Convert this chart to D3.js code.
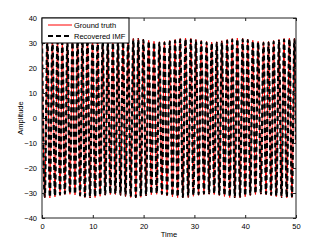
<!DOCTYPE html>
<html lang="en">
<head>
<meta charset="utf-8">
<title>Ground truth vs recovered IMF</title>
<style>
body { margin: 0; background: #fff; }
text { font-family: "Liberation Sans", Arial, sans-serif; }
</style>
</head>
<body>
<script src="https://d3js.org/d3.v7.min.js"></script>
<script>

// extrema of the oscillation (peak, trough, peak, ...)
var times = [0, 0.55, 1.05, 1.55, 2.05, 2.55, 3.05, 3.55, 4.0, 4.5, 5.0, 5.5, 6.0, 6.5, 7.0, 7.5,
  7.95, 8.45, 8.95, 9.45, 9.95, 10.45, 10.95, 11.45, 11.95, 12.45, 12.95, 13.45, 13.95, 14.45,
  14.95, 15.45, 15.95, 16.45, 16.95, 17.46, 17.97, 18.47, 18.96, 19.45, 19.95, 20.48, 21.0, 21.52,
  22.05, 22.58, 23.1, 23.6, 24.1, 24.62, 25.15, 25.68, 26.2, 26.7, 27.2, 27.72, 28.25, 28.78,
  29.3, 29.8, 30.3, 30.82, 31.35, 31.88, 32.4, 32.9, 33.4, 33.9, 34.4, 34.9, 35.4, 35.92,
  36.45, 36.95, 37.45, 37.95, 38.45, 38.98, 39.5, 40.0, 40.5, 41.0, 41.5, 42.02, 42.55, 43.08,
  43.6, 44.1, 44.6, 45.1, 45.6, 46.12, 46.65, 47.15, 47.65, 48.18, 48.7, 49.2, 49.7, 50.0];

var groundTruth = [31.5, -31.9, 31.8, -32.0, 31.5, -31.6, 31.0, -31.0, 30.6, -30.6, 30.5, -30.5,
  30.8, -30.8, 31.2, -31.3, 31.6, -31.8, 31.9, -32.0, 31.8, -31.8, 31.4, -31.3, 31.0, -30.9,
  30.6, -30.6, 30.5, -30.6, 30.7, -31.0, 31.1, -31.4, 31.5, -31.8, 31.8, -32.0, 31.9, -31.7,
  31.6, -31.2, 31.1, -30.7, 30.7, -30.5, 30.5, -30.7, 30.6, -31.1, 31.0, -31.6, 31.4, -31.9,
  31.8, -32.0, 32.0, -31.8, 31.8, -31.3, 31.4, -30.9, 31.0, -30.6, 30.6, -30.5, 30.4, -30.6,
  30.5, -31.0, 30.9, -31.4, 31.4, -31.8, 31.8, -32.0, 32.0, -31.9, 31.9, -31.5, 31.6, -31.0,
  31.1, -30.6, 30.7, -30.5, 30.5, -30.7, 30.6, -31.1, 31.0, -31.5, 31.4, -31.9, 31.8, -32.0,
  32.0, -31.8, 31.9, -10];

var recoveredIMF = [31.0, -31.5, 31.3, -31.6, 31.1, -31.2, 30.6, -30.6, 30.2, -30.2, 30.1, -30.1,
  30.4, -30.4, 30.8, -30.9, 31.2, -31.4, 31.5, -31.6, 31.4, -31.4, 31.0, -30.9, 30.6, -30.5,
  30.2, -30.2, 30.1, -30.2, 30.3, -30.6, 30.7, -31.0, 31.1, -31.4, 31.4, -31.6, 31.5, -31.3,
  31.2, -30.8, 30.7, -30.3, 30.3, -30.1, 30.1, -30.3, 30.2, -30.7, 30.6, -31.2, 31.0, -31.5,
  31.4, -31.6, 31.6, -31.4, 31.4, -30.9, 31.0, -30.5, 30.6, -30.2, 30.2, -30.1, 30.0, -30.2,
  30.1, -30.6, 30.5, -31.0, 31.0, -31.4, 31.4, -31.6, 31.6, -31.5, 31.5, -31.1, 31.2, -30.6,
  30.7, -30.2, 30.3, -30.1, 30.1, -30.3, 30.2, -30.7, 30.6, -31.1, 31.0, -31.5, 31.4, -31.6,
  31.6, -31.4, 31.5, -10];

var xTicks = [0, 10, 20, 30, 40, 50];
var yTicks = [-40, -30, -20, -10, 0, 10, 20, 30, 40];
var legendNames = ["Ground truth", "Recovered IMF"];

var width = 327, height = 246;
var margin = {top: 18, right: 31, bottom: 28, left: 42};
var w = width - margin.left - margin.right,
    h = height - margin.top - margin.bottom;

var svg = d3.select("body").append("svg")
    .attr("width", width)
    .attr("height", height);

var g = svg.append("g")
    .attr("transform", "translate(" + margin.left + "," + margin.top + ")");

var x = d3.scaleLinear().domain([0, 50]).range([0, w]);
var y = d3.scaleLinear().domain([-40, 40]).range([h, 0]);

g.append("clipPath").attr("id", "clip")
  .append("rect").attr("width", w).attr("height", h);

var truthPts = times.map(function(t, i) { return [t, groundTruth[i]]; });
var imfPts = times.map(function(t, i) { return [t, recoveredIMF[i]]; });

var line = d3.line()
    .x(function(d) { return x(d[0]); })
    .y(function(d) { return y(d[1]); })
    .curve(d3.curveMonotoneX);

var plot = g.append("g").attr("clip-path", "url(#clip)");

plot.append("path")
    .attr("d", line(truthPts))
    .attr("fill", "none")
    .attr("stroke", "#ff0000")
    .attr("stroke-width", 1);

plot.append("path")
    .attr("d", line(imfPts))
    .attr("fill", "none")
    .attr("stroke", "#000")
    .attr("stroke-width", 2.2)
    .attr("stroke-dasharray", "5,3");

// axes, matlab style: ticks inside on all four sides
function styleAxis(sel) {
  sel.select(".domain").remove();
  sel.selectAll(".tick line").attr("stroke", "#222");
  sel.selectAll(".tick text").attr("fill", "#000").style("font-size", "7.5px");
}

g.append("g").attr("transform", "translate(0," + h + ")")
  .call(d3.axisBottom(x).tickValues(xTicks).tickSizeInner(-3).tickSizeOuter(0).tickPadding(6))
  .call(styleAxis);
g.append("g")
  .call(d3.axisTop(x).tickValues(xTicks).tickSizeInner(-3).tickSizeOuter(0).tickFormat(""))
  .call(styleAxis);
g.append("g")
  .call(d3.axisLeft(y).tickValues(yTicks).tickSizeInner(-3).tickSizeOuter(0).tickPadding(5))
  .call(styleAxis);
g.append("g").attr("transform", "translate(" + w + ",0)")
  .call(d3.axisRight(y).tickValues(yTicks).tickSizeInner(-3).tickSizeOuter(0).tickFormat(""))
  .call(styleAxis);

g.append("rect")
    .attr("width", w).attr("height", h)
    .attr("fill", "none")
    .attr("stroke", "#222")
    .attr("stroke-width", 1);

svg.append("text")
    .attr("x", margin.left + w / 2)
    .attr("y", 237)
    .attr("text-anchor", "middle")
    .style("font-size", "7.5px")
    .text("Time");

svg.append("text")
    .attr("transform", "translate(23," + (margin.top + h / 2) + ") rotate(-90)")
    .attr("text-anchor", "middle")
    .style("font-size", "7.5px")
    .text("Amplitude");

// legend
var lg = g.append("g");
lg.append("rect")
    .attr("width", 87).attr("height", 25)
    .attr("fill", "#fff")
    .attr("stroke", "#000")
    .attr("stroke-width", 1);

var rows = lg.selectAll(".row").data(legendNames).enter().append("g")
    .attr("transform", function(d, i) { return "translate(0," + (7 + i * 11) + ")"; });

rows.append("line")
    .attr("x1", 6).attr("x2", 30)
    .attr("stroke", function(d, i) { return i ? "#000" : "#ff0000"; })
    .attr("stroke-width", function(d, i) { return i ? 2.2 : 1; })
    .attr("stroke-dasharray", function(d, i) { return i ? "5,3" : null; });

rows.append("text")
    .attr("x", 32)
    .attr("dy", "0.35em")
    .style("font-size", "7.5px")
    .text(function(d) { return d; });

</script>
</body>
</html>
